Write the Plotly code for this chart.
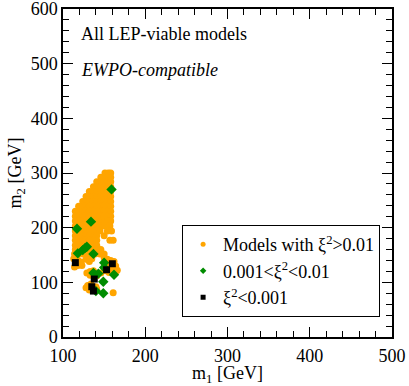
import plotly.graph_objects as go

# Orange: models with xi^2 > 0.01 (upper dense cloud, row by row, then lower cluster)
orange_x = [
    151, 155, 158,
    146, 150, 154, 158,
    141, 146, 150, 154, 158,
    137, 141, 146, 150, 154, 158,
    132, 137, 141, 146, 150, 154, 158,
    128, 132, 137, 141, 146, 150, 154, 158,
    124, 128, 132, 137, 141, 146, 150, 154, 158,
    119, 124, 128, 132, 137, 141, 146, 150, 154, 158,
    115, 119, 124, 128, 132, 137, 141, 146, 150, 154, 158,
    115, 119, 124, 128, 132, 137, 141, 146, 150, 154, 158,
    115, 119, 124, 128, 132, 137, 141, 146, 150, 154, 158,
    115, 119, 124, 128, 132, 137, 141, 146, 150, 157,
    115, 119, 124, 128, 132, 137, 141, 145, 154, 159,
    115, 119, 124, 128, 132, 137, 141, 150,
    115, 119, 124, 128, 132, 137, 141, 157, 161,
    115, 119, 124, 128, 132, 137, 141,
    115, 119, 124, 128, 132, 137, 141, 146,
    114, 119, 124, 129, 134, 139, 145, 150,
    113, 118, 122, 118, 114, 123,
    128, 132, 135,
    150, 154, 158, 162, 164, 160, 156, 166, 162, 156, 152,
    129, 133, 137, 141, 146, 133,
    130, 128, 134, 140, 141, 132,
    161, 165,
]
orange_y = [
    300, 300, 300,
    292, 292, 292, 292,
    284, 284, 284, 284, 284,
    275, 275, 275, 275, 275, 275,
    266, 266, 266, 266, 266, 266, 266,
    257, 257, 257, 257, 257, 257, 257, 257,
    248, 248, 248, 248, 248, 248, 248, 248, 248,
    239, 239, 239, 239, 239, 239, 239, 239, 239, 239,
    230, 230, 230, 230, 230, 230, 230, 230, 230, 230, 230,
    221, 221, 221, 221, 221, 221, 221, 221, 221, 221, 221,
    212, 212, 212, 212, 212, 212, 212, 212, 212, 212, 212,
    203, 203, 203, 203, 203, 203, 203, 203, 203, 203,
    194, 194, 194, 194, 194, 194, 194, 194, 194, 194,
    185, 185, 185, 185, 185, 185, 185, 185,
    177, 177, 177, 177, 177, 177, 177, 177, 177,
    168, 168, 168, 168, 168, 168, 168,
    160, 160, 160, 160, 160, 160, 160, 160,
    152, 152, 152, 152, 152, 152, 152, 152,
    143, 141, 137, 131, 128, 131,
    142, 138, 143,
    145, 142, 140, 138, 130, 127, 130, 122, 118, 118, 121,
    117, 113, 121, 112, 117, 120,
    94, 90, 97, 92, 88, 86,
    81, 121,
]

# Green: 0.001 < xi^2 < 0.01
green_x = [159, 134, 117, 124, 127, 129, 118, 137, 150, 150, 137, 143, 162, 149, 140, 149]
green_y = [270, 211, 198, 159, 163, 165, 153, 152, 136, 127, 117, 116, 114, 101, 84, 80]

# Black: xi^2 < 0.001
black_x = [115, 160, 153, 138, 135, 137]
black_y = [136, 134, 123, 106, 92, 84]

legend_labels = ["Models with ξ<sup>2</sup>>0.01", "0.001<ξ<sup>2</sup><0.01", "ξ<sup>2</sup><0.001"]

SERIF = "Liberation Serif"
FS = 18
ORANGE = "#FFA500"
GREEN = "#008C00"

fig = go.Figure()
fig.add_trace(go.Scatter(x=orange_x, y=orange_y, mode="markers", showlegend=False,
                         marker=dict(color=ORANGE, size=7, symbol="circle", line=dict(width=0))))
fig.add_trace(go.Scatter(x=green_x, y=green_y, mode="markers", showlegend=False,
                         marker=dict(color=GREEN, size=8, symbol="diamond", line=dict(width=0))))
fig.add_trace(go.Scatter(x=black_x, y=black_y, mode="markers", showlegend=False,
                         marker=dict(color="black", size=7, symbol="square", line=dict(width=0))))

# legend-only entries (smaller symbols as in the reference legend)
for lab, col, sym in zip(legend_labels, [ORANGE, GREEN, "black"], ["circle", "diamond", "square"]):
    fig.add_trace(go.Scatter(x=[None], y=[None], mode="markers", name=lab,
                             marker=dict(color=col, size=5, symbol=sym, line=dict(width=0))))

axis_common = dict(
    showline=True, linecolor="black", linewidth=1.5, mirror="allticks",
    ticks="inside", ticklen=10, tickwidth=1.2, tickcolor="black",
    showgrid=False, zeroline=False, automargin=False, ticklabeloverflow="allow",
    tickfont=dict(family=SERIF, size=FS, color="black"),
)

fig.update_xaxes(range=[100, 500], dtick=100, tick0=0, ticklabelstandoff=2,
                 minor=dict(dtick=20, ticks="inside", ticklen=6, tickcolor="black", tickwidth=1, showgrid=False),
                 title=dict(text="m<sub>1</sub> [GeV]", font=dict(family=SERIF, size=FS, color="black"), standoff=3),
                 **axis_common)
fig.update_yaxes(range=[0, 600], dtick=100, tick0=0,
                 minor=dict(dtick=20, ticks="inside", ticklen=6, tickcolor="black", tickwidth=1, showgrid=False),
                 title=dict(text="m<sub>2</sub> [GeV]", font=dict(family=SERIF, size=FS, color="black"), standoff=4),
                 **axis_common)

fig.add_annotation(x=0.05, y=0.925, xref="paper", yref="paper", xanchor="left", yanchor="middle",
                   text="All LEP-viable models", showarrow=False,
                   font=dict(family=SERIF, size=FS, color="black"))
fig.add_annotation(x=0.05, y=0.815, xref="paper", yref="paper", xanchor="left", yanchor="middle",
                   text="<i>EWPO-compatible</i>", showarrow=False,
                   font=dict(family=SERIF, size=FS, color="black"))

fig.update_layout(
    width=409, height=386,
    margin=dict(l=63, r=17, t=9, b=49),
    paper_bgcolor="white", plot_bgcolor="white",
    legend=dict(x=0.362, y=0.341, xanchor="left", yanchor="top",
                bordercolor="black", borderwidth=1, bgcolor="white",
                font=dict(family=SERIF, size=FS, color="black")),
)

fig.write_html("out.html", config={"displayModeBar": False},
               post_script="document.body.style.margin='0';document.body.style.overflow='hidden';")
